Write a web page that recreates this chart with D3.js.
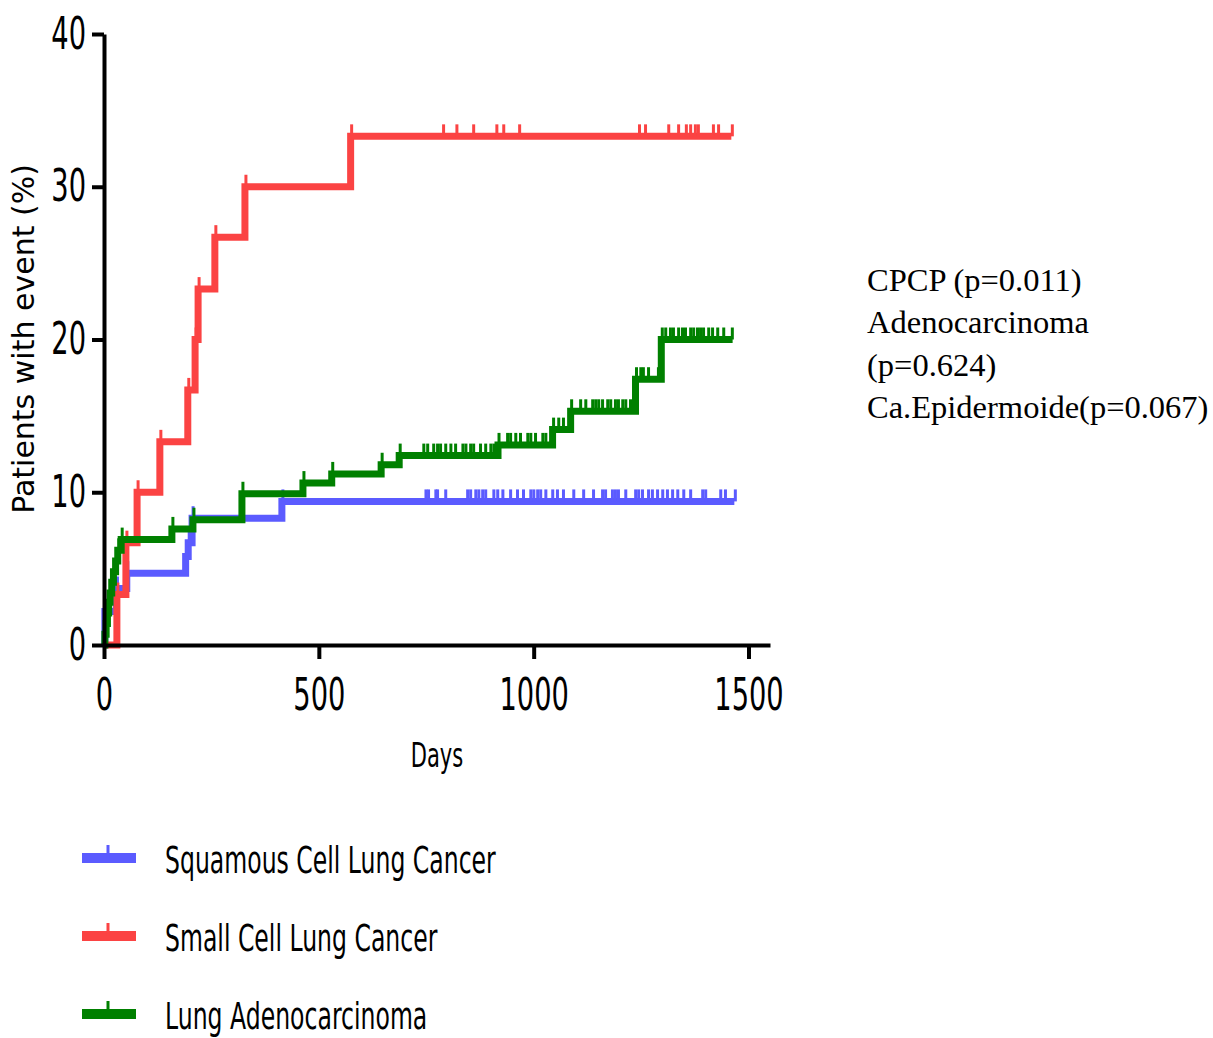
<!DOCTYPE html>
<html>
<head>
<meta charset="utf-8">
<script src="https://cdn.jsdelivr.net/npm/d3@7"></script>
<style>
  body { margin: 0; background: #fff; }
  svg { display: block; }
</style>
</head>
<body>
<svg id="chart" width="1213" height="1038"></svg>
<script>
// step points [day, % with event]
let squamousSteps = [[0, 0], [2, 2.2], [29, 3.7], [53, 4.7], [190, 5.8], [196, 6.7], [205, 8.3], [414, 9.4]];
let smallCellSteps = [[0, 0], [30, 3.3], [51, 6.7], [77, 10], [130, 13.3], [195, 16.7], [212, 20], [219, 23.3], [258, 26.7], [328, 30], [574, 33.3]];
let adenoSteps = [[0, 0], [2, 0.7], [5, 1.4], [8, 2.1], [11, 2.8], [14, 3.4], [18, 4.1], [22, 4.8], [27, 5.5], [32, 6.2], [40, 6.9],
  [158, 7.6], [207, 8.2], [321, 9.9], [463, 10.6], [530, 11.2], [645, 11.8], [687, 12.4], [917, 13.1], [1044, 14.1], [1086, 15.3],
  [1237, 17.4], [1297, 20.0]];

// last follow-up day per group
let squamousEnd = 1467;
let smallCellEnd = 1460;
let adenoEnd = 1463;

// censored days
let squamousCensor = [747, 753, 770, 774, 793, 844, 851, 863, 870, 879, 886, 905, 914, 926, 944, 960, 974, 991, 998, 1007, 1014,
  1026, 1042, 1053, 1067, 1091, 1114, 1137, 1158, 1165, 1181, 1188, 1195, 1212, 1235, 1242, 1251, 1265, 1274, 1286, 1298, 1309,
  1321, 1333, 1347, 1363, 1391, 1398, 1433, 1444, 1467];
let smallCellCensor = [788, 819, 858, 912, 928, 965, 1244, 1258, 1312, 1335, 1353, 1363, 1374, 1381, 1416, 1428, 1460];
let adenoCensor = [642, 681, 742, 751, 765, 774, 781, 793, 805, 816, 833, 840, 851, 858, 874, 886, 898, 905, 937, 944, 956, 967,
  984, 991, 1002, 1019, 1026, 1056, 1067, 1107, 1119, 1135, 1142, 1149, 1158, 1170, 1177, 1188, 1195, 1205, 1212, 1223, 1230,
  1247, 1253, 1265, 1288, 1305, 1316, 1323, 1335, 1344, 1351, 1363, 1370, 1379, 1386, 1393, 1405, 1414, 1426, 1440, 1460];

let xTicks = [0, 500, 1000, 1500];
let yTicks = [0, 10, 20, 30, 40];

let seriesNames = ["Squamous Cell Lung Cancer", "Small Cell Lung Cancer", "Lung Adenocarcinoma"];
let seriesColors = ["#5b5bff", "#fb4343", "#008000"];
let pValueLines = ["CPCP (p=0.011)", "Adenocarcinoma", "(p=0.624)", "Ca.Epidermoide(p=0.067)"];

let groups = [
  { steps: squamousSteps, end: squamousEnd, censor: squamousCensor },
  { steps: smallCellSteps, end: smallCellEnd, censor: smallCellCensor },
  { steps: adenoSteps, end: adenoEnd, censor: adenoCensor },
];

let svg = d3.select("#chart");
let condensed = 0.62;

let x = d3.scaleLinear().domain([0, 1550]).range([104, 770]);
let y = d3.scaleLinear().domain([0, 40]).range([645, 34]);

let valueAt = (steps, day) => {
  let i = d3.bisector((d) => d[0]).right(steps, day) - 1;
  return steps[Math.max(i, 0)][1];
};

let line = d3.line()
  .x((d) => x(d[0]))
  .y((d) => y(d[1]))
  .curve(d3.curveStepAfter);

// curves
groups.forEach((g, i) => {
  let pts = [...g.steps, [g.end, g.steps[g.steps.length - 1][1]]];
  let grp = svg.append("g").attr("class", "series");
  grp.append("path")
    .attr("d", line(pts))
    .attr("fill", "none")
    .attr("stroke", seriesColors[i])
    .attr("stroke-width", 7)
    .attr("stroke-linejoin", "miter");

  // tick marks at events and censored days
  let tickDays = [...g.steps.slice(1).map((d) => d[0]), ...g.censor];
  grp.selectAll("line.censor")
    .data(tickDays)
    .join("line")
    .attr("class", "censor")
    .attr("x1", (d) => x(d) + 1)
    .attr("x2", (d) => x(d) + 1)
    .attr("y1", (d) => y(valueAt(g.steps, d)))
    .attr("y2", (d) => y(valueAt(g.steps, d)) - 12)
    .attr("stroke", seriesColors[i])
    .attr("stroke-width", 3);
});

// axes
let xAxis = svg.append("g")
  .attr("transform", `translate(0,${y(0)})`)
  .call(d3.axisBottom(x).tickValues(xTicks).tickFormat(d3.format("d")).tickSize(14).tickSizeOuter(0).tickPadding(20));
let yAxis = svg.append("g")
  .attr("transform", `translate(${x(0)},0)`)
  .call(d3.axisLeft(y).tickValues(yTicks).tickSize(12).tickSizeOuter(0));

[xAxis, yAxis].forEach((ax) => {
  ax.select(".domain").attr("stroke", "#000").attr("stroke-width", 4);
  ax.selectAll(".tick line").attr("stroke", "#000").attr("stroke-width", 4);
  ax.selectAll(".tick text")
    .attr("fill", "#000")
    .style("font-family", "'DejaVu Sans', sans-serif")
    .style("font-size", "44px");
});
xAxis.selectAll(".tick text").attr("transform", `scale(${condensed},1)`);
yAxis.selectAll(".tick text")
  .attr("x", 0)
  .attr("transform", `translate(-18,0) scale(${condensed},1)`);

// axis titles
svg.append("text")
  .attr("transform", `translate(437,767) scale(${condensed},1)`)
  .attr("text-anchor", "middle")
  .style("font-family", "'DejaVu Sans', sans-serif")
  .style("font-size", "34px")
  .text("Days");

svg.append("text")
  .attr("transform", "translate(34,339) rotate(-90)")
  .attr("text-anchor", "middle")
  .style("font-family", "'DejaVu Sans', sans-serif")
  .style("font-size", "30px")
  .text("Patients with event (%)");

// p values
svg.append("g")
  .selectAll("text")
  .data(pValueLines)
  .join("text")
  .attr("x", 867)
  .attr("y", (d, i) => 291 + i * 42.3)
  .style("font-family", "'Liberation Serif', 'Times New Roman', serif")
  .style("font-size", "32.5px")
  .text((d) => d);

// legend
let legend = svg.append("g")
  .selectAll("g")
  .data(seriesNames)
  .join("g")
  .attr("transform", (d, i) => `translate(0,${858 + i * 78})`);
legend.append("line")
  .attr("x1", 82).attr("x2", 136)
  .attr("stroke", (d, i) => seriesColors[i])
  .attr("stroke-width", 10);
legend.append("line")
  .attr("x1", 108).attr("x2", 108)
  .attr("y1", 0).attr("y2", -13)
  .attr("stroke", (d, i) => seriesColors[i])
  .attr("stroke-width", 3);
legend.append("text")
  .attr("transform", `translate(165,15) scale(${condensed},1)`)
  .style("font-family", "'DejaVu Sans', sans-serif")
  .style("font-size", "38px")
  .text((d) => d);
</script>
</body>
</html>
